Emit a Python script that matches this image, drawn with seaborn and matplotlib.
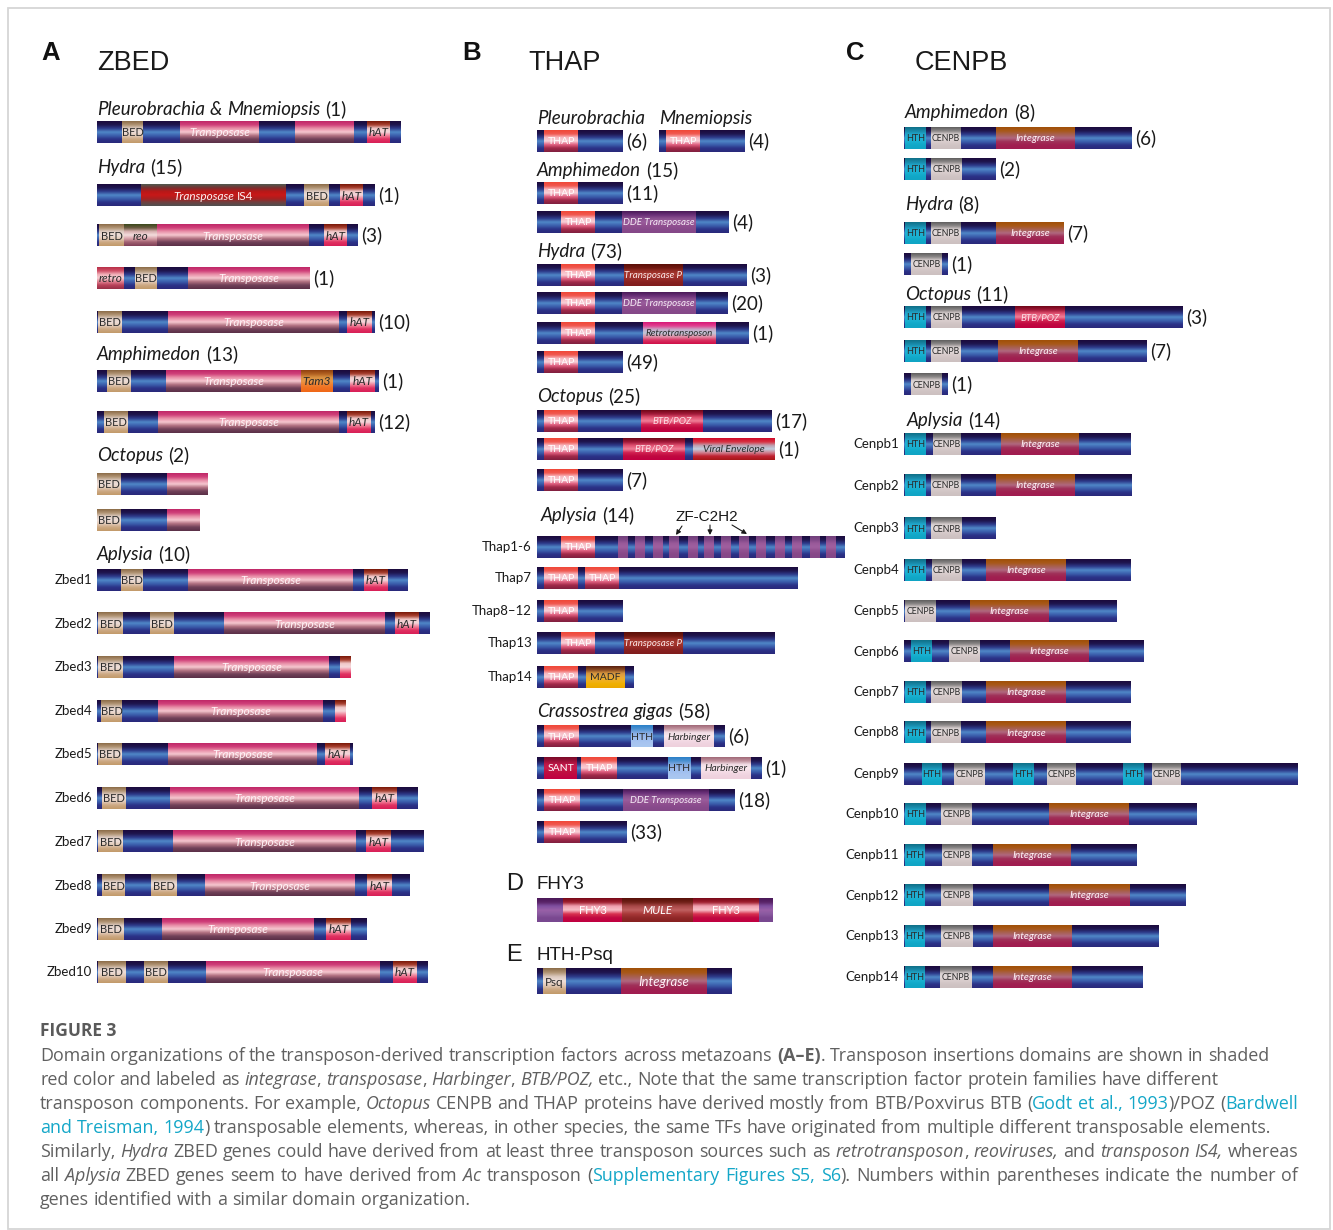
import matplotlib
matplotlib.use('Agg')
import matplotlib.pyplot as plt
from matplotlib.patches import Rectangle
import numpy as np
import seaborn as sns

sns.set_theme(style='white')
plt.rcParams['font.family'] = ['Lato', 'DejaVu Sans']

# ---------------- data ----------------
# rows: (row label, protein length, [(start, end, domain kind, text)], gene count)

zbed_heads = [('Pleurobrachia & Mnemiopsis', 1), ('Hydra', 15), ('Amphimedon', 13),
              ('Octopus', 2), ('Aplysia', 10)]
zbed_rows = [
    ('', 304, [(25, 46, 'bed', 'BED'), (83, 162, 'tp', 'Transposase'), (198, 257, 'tp', ''), (270, 293, 'hat', 'hAT')], None),
    ('', 278, [(44, 189, 'is4', 'Transposase IS4'), (207, 232, 'bed', 'BED'), (243, 266, 'hat', 'hAT')], 1),
    ('', 261, [(2, 27, 'bed', 'BED'), (27, 60, 'reo', 'reo'), (60, 212, 'tp', 'Transposase'), (227, 250, 'hat', 'hAT')], 3),
    ('', 213, [(0, 27, 'retro', 'retro'), (38, 60, 'bed', 'BED'), (91, 213, 'tp', 'Transposase')], 1),
    ('', 278, [(1, 25, 'bed', 'BED'), (71, 242, 'tp', 'Transposase'), (250, 275, 'hat', 'hAT')], 10),
    ('', 282, [(10, 34, 'bed', 'BED'), (69, 204, 'tp', 'Transposase'), (204, 236, 'tam3', 'Tam3'), (253, 278, 'hat', 'hAT')], 1),
    ('', 278, [(7, 31, 'bed', 'BED'), (61, 242, 'tp', 'Transposase'), (250, 274, 'hat', 'hAT')], 12),
    ('', 111, [(0, 24, 'bed', 'BED'), (70, 111, 'tp', '')], None),
    ('', 103, [(0, 24, 'bed', 'BED'), (70, 103, 'tp', '')], None),
    ('Zbed1', 311, [(24, 46, 'bed', 'BED'), (91, 256, 'tp', 'Transposase'), (267, 291, 'hat', 'hAT')], None),
    ('Zbed2', 333, [(1, 26, 'bed', 'BED'), (53, 77, 'bed', 'BED'), (127, 288, 'tp', 'Transposase'), (298, 322, 'hat', 'hAT')], None),
    ('Zbed3', 254, [(1, 26, 'bed', 'BED'), (77, 232, 'tp', 'Transposase'), (243, 254, 'hat', '')], None),
    ('Zbed4', 249, [(4, 25, 'bed', 'BED'), (61, 226, 'tp', 'Transposase'), (238, 249, 'hat', '')], None),
    ('Zbed5', 256, [(1, 25, 'bed', 'BED'), (71, 220, 'tp', 'Transposase'), (228, 253, 'hat', 'hAT')], None),
    ('Zbed6', 321, [(5, 29, 'bed', 'BED'), (73, 262, 'tp', 'Transposase'), (275, 300, 'hat', 'hAT')], None),
    ('Zbed7', 327, [(1, 26, 'bed', 'BED'), (76, 259, 'tp', 'Transposase'), (269, 294, 'hat', 'hAT')], None),
    ('Zbed8', 313, [(5, 28, 'bed', 'BED'), (54, 80, 'bed', 'BED'), (108, 258, 'tp', 'Transposase'), (270, 295, 'hat', 'hAT')], None),
    ('Zbed9', 270, [(1, 27, 'bed', 'BED'), (65, 217, 'tp', 'Transposase'), (229, 254, 'hat', 'hAT')], None),
    ('Zbed10', 331, [(1, 29, 'bed', 'BED'), (47, 71, 'bed', 'BED'), (109, 283, 'tp', 'Transposase'), (296, 320, 'hat', 'hAT')], None),
]

thap16_zf = [81, 98, 116, 132, 151, 167, 184, 202, 219, 238, 255, 273, 289]
thap_heads = [('Pleurobrachia', None), ('Mnemiopsis', None), ('Amphimedon', 15), ('Hydra', 73),
              ('Octopus', 25), ('Aplysia', 14), ('Crassostrea gigas', 58)]
thap_rows = [
    ('', 86, [(7, 41, 'thap', 'THAP')], 6),
    ('', 86, [(7, 41, 'thap', 'THAP')], 4),
    ('', 86, [(7, 41, 'thap', 'THAP')], 11),
    ('', 192, [(24, 58, 'thap', 'THAP'), (85, 159, 'dde', 'DDE Transposase')], 4),
    ('', 210, [(24, 58, 'thap', 'THAP'), (87, 146, 'tpp', 'Transposase P')], 3),
    ('', 191, [(24, 58, 'thap', 'THAP'), (85, 159, 'dde', 'DDE Transposase')], 20),
    ('', 212, [(24, 58, 'thap', 'THAP'), (106, 179, 'retrotp', 'Retrotransposon')], 1),
    ('', 86, [(7, 41, 'thap', 'THAP')], 49),
    ('', 235, [(7, 41, 'thap', 'THAP'), (104, 166, 'btb', 'BTB/POZ')], 17),
    ('', 238, [(7, 41, 'thap', 'THAP'), (86, 148, 'btb', 'BTB/POZ'), (156, 238, 'viral', 'Viral Envelope')], 1),
    ('', 86, [(7, 41, 'thap', 'THAP')], 7),
    ('Thap1-6', 308, [(24, 58, 'thap', 'THAP')] + [(s, s + 10, 'zf', '') for s in thap16_zf], None),
    ('Thap7', 261, [(7, 41, 'thap', 'THAP'), (48, 82, 'thap', 'THAP')], None),
    ('Thap8–12', 86, [(7, 41, 'thap', 'THAP')], None),
    ('Thap13', 238, [(24, 58, 'thap', 'THAP'), (87, 146, 'tpp', 'Transposase P')], None),
    ('Thap14', 97, [(7, 41, 'thap', 'THAP'), (49, 88, 'madf', 'MADF')], None),
    ('', 188, [(7, 42, 'thap', 'THAP'), (94, 116, 'hthb', 'HTH'), (127, 177, 'harb', 'Harbinger')], 6),
    ('', 225, [(7, 40, 'sant', 'SANT'), (44, 80, 'thap', 'THAP'), (131, 154, 'hthb', 'HTH'), (164, 214, 'harb', 'Harbinger')], 1),
    ('', 198, [(7, 43, 'thap', 'THAP'), (86, 172, 'dde', 'DDE Transposase')], 18),
    ('', 90, [(7, 43, 'thap', 'THAP')], 33),
]

fhy3_row = ('', 236, [(0, 236, 'fbb', ''), (26, 85, 'fhy3', 'FHY3'), (85, 156, 'mule', 'MULE'), (156, 222, 'fhy3', 'FHY3')], None)
psq_row = ('', 195, [(6, 29, 'psq', 'Psq'), (84, 170, 'int2', 'Integrase')], None)

cenpb_heads = [('Amphimedon', 8), ('Hydra', 8), ('Octopus', 11), ('Aplysia', 14)]
cenpb_rows = [
    ('', 228, [(1, 22, 'hthc', 'HTH'), (27, 57, 'cenpb', 'CENPB'), (92, 171, 'int', 'Integrase')], 6),
    ('', 92, [(1, 22, 'hthc', 'HTH'), (27, 58, 'cenpb', 'CENPB')], 2),
    ('', 160, [(1, 22, 'hthc', 'HTH'), (27, 57, 'cenpb', 'CENPB'), (92, 160, 'int', 'Integrase')], 7),
    ('', 44, [(7, 38, 'cenpb', 'CENPB')], 1),
    ('', 279, [(1, 22, 'hthc', 'HTH'), (27, 58, 'cenpb', 'CENPB'), (111, 161, 'btb', 'BTB/POZ')], 3),
    ('', 243, [(1, 22, 'hthc', 'HTH'), (27, 57, 'cenpb', 'CENPB'), (94, 174, 'int', 'Integrase')], 7),
    ('', 44, [(7, 38, 'cenpb', 'CENPB')], 1),
    ('Cenpb1', 227, [(1, 22, 'hthc', 'HTH'), (29, 57, 'cenpb', 'CENPB'), (97, 175, 'int', 'Integrase')], None),
    ('Cenpb2', 228, [(1, 22, 'hthc', 'HTH'), (27, 57, 'cenpb', 'CENPB'), (92, 171, 'int', 'Integrase')], None),
    ('Cenpb3', 92, [(1, 22, 'hthc', 'HTH'), (27, 58, 'cenpb', 'CENPB')], None),
    ('Cenpb4', 227, [(1, 22, 'hthc', 'HTH'), (28, 58, 'cenpb', 'CENPB'), (82, 162, 'int', 'Integrase')], None),
    ('Cenpb5', 213, [(1, 32, 'cenpb', 'CENPB'), (66, 145, 'int', 'Integrase')], None),
    ('Cenpb6', 240, [(7, 28, 'hthc', 'HTH'), (45, 76, 'cenpb', 'CENPB'), (106, 185, 'int', 'Integrase')], None),
    ('Cenpb7', 227, [(1, 22, 'hthc', 'HTH'), (27, 58, 'cenpb', 'CENPB'), (82, 162, 'int', 'Integrase')], None),
    ('Cenpb8', 227, [(1, 22, 'hthc', 'HTH'), (27, 57, 'cenpb', 'CENPB'), (82, 162, 'int', 'Integrase')], None),
    ('Cenpb9', 394, [(18, 38, 'hthc', 'HTH'), (50, 81, 'cenpb', 'CENPB'), (109, 130, 'hthc', 'HTH'),
                     (143, 172, 'cenpb', 'CENPB'), (219, 240, 'hthc', 'HTH'), (248, 277, 'cenpb', 'CENPB')], None),
    ('Cenpb10', 293, [(1, 22, 'hthc', 'HTH'), (37, 68, 'cenpb', 'CENPB'), (145, 225, 'int', 'Integrase')], None),
    ('Cenpb11', 233, [(1, 21, 'hthc', 'HTH'), (38, 68, 'cenpb', 'CENPB'), (89, 167, 'int', 'Integrase')], None),
    ('Cenpb12', 282, [(1, 21, 'hthc', 'HTH'), (37, 69, 'cenpb', 'CENPB'), (145, 226, 'int', 'Integrase')], None),
    ('Cenpb13', 255, [(1, 21, 'hthc', 'HTH'), (37, 69, 'cenpb', 'CENPB'), (89, 168, 'int', 'Integrase')], None),
    ('Cenpb14', 239, [(1, 21, 'hthc', 'HTH'), (36, 68, 'cenpb', 'CENPB'), (89, 168, 'int', 'Integrase')], None),
]

caption_title = 'FIGURE 3'
caption_lines = [
    [('Domain organizations of the transposon-derived transcription factors across metazoans ', 'n'), ('(A–E)', 'b'),
     ('. Transposon insertions domains are shown in shaded', 'n')],
    [('red color and labeled as ', 'n'), ('integrase', 'i'), (', ', 'n'), ('transposase', 'i'), (', ', 'n'),
     ('Harbinger', 'i'), (', ', 'n'), ('BTB/POZ,', 'i'),
     (' etc., Note that the same transcription factor protein families have different', 'n')],
    [('transposon components. For example, ', 'n'), ('Octopus', 'i'),
     (' CENPB and THAP proteins have derived mostly from BTB/Poxvirus BTB (', 'n'), ('Godt et al., 1993', 'l'),
     (')/POZ (', 'n'), ('Bardwell', 'l')],
    [('and Treisman, 1994', 'l'),
     (') transposable elements, whereas, in other species, the same TFs have originated from multiple different transposable elements.', 'n')],
    [('Similarly, ', 'n'), ('Hydra', 'i'), (' ZBED genes could have derived from at least three transposon sources such as ', 'n'),
     ('retrotransposon', 'i'), (', ', 'n'), ('reoviruses,', 'i'), (' and ', 'n'), ('transposon IS4,', 'i'), (' whereas', 'n')],
    [('all ', 'n'), ('Aplysia', 'i'), (' ZBED genes seem to have derived from ', 'n'), ('Ac', 'i'), (' transposon (', 'n'),
     ('Supplementary Figures S5, S6', 'l'), ('). Numbers within parentheses indicate the number of', 'n')],
    [('genes identified with a similar domain organization.', 'n')],
]

# ---------------- layout ----------------
zbed_head_pos = [(97, 115), (97, 173), (97, 360), (97, 461), (97, 560)]
zbed_row_pos = [(97, y) for y in [132, 195.5, 235.5, 278, 322, 381, 422.5, 484, 520.5, 580, 623.5,
                                  667, 711, 754.5, 798, 841.5, 885.5, 929, 972.5]]
thap_head_pos = [(537, 124), (659, 124), (537, 176), (537, 257), (537, 402), (541, 521), (537, 717)]
thap_row_pos = [(537, 141), (659, 141)] + [(537, y) for y in [193, 222, 275, 303, 333.5, 362, 421, 449, 480,
                                                             547, 578, 611, 643, 677, 736.5, 768, 800, 832]]
cenpb_head_pos = [(905, 118), (905, 210), (905, 300), (907, 426)]
cenpb_row_pos = [(904, y) for y in [138, 169, 233, 264, 317.5, 351.5, 384.5, 444, 485.5, 528.5, 570, 611,
                                    651.5, 692, 732.5, 774, 814, 855, 895.5, 936, 977]]

# gradient colours, top -> bottom
grad_cols = {
    'bb': ['#1b0a3c', '#1f1650', '#2e3c8c', '#5088c8', '#3b5eac', '#2b3288', '#29297a'],
    'bed': ['#8c6c48', '#b09474', '#dccac0', '#eedfda', '#e2cab8', '#cca882', '#c29a6a'],
    'psq': ['#8c6c48', '#b09474', '#dccac0', '#eedfda', '#e2cab8', '#cca882', '#c29a6a'],
    'tp': ['#c02868', '#d0407a', '#e890a8', '#f6c8d0', '#b07080', '#704058', '#5a3048'],
    'hat': ['#7a1808', '#a84030', '#f0c8c8', '#f4d8dc', '#f08098', '#e03060', '#d82058'],
    'is4': ['#505a50', '#7a3030', '#b81818', '#c81818', '#a82020', '#704040', '#505050'],
    'reo': ['#3c4a1c', '#6a5a40', '#d8b0b0', '#f4dede', '#d8a0a8', '#a06070', '#804058'],
    'retro': ['#b83048', '#d05068', '#f0b0b8', '#f8d0d4', '#e08090', '#b84058', '#983048'],
    'tam3': ['#904010', '#b06020', '#d89040', '#e89848', '#f08030', '#f07020', '#f06818'],
    'thap': ['#f04838', '#f05850', '#f8b8c0', '#f8d0d8', '#e06080', '#a02848', '#802040'],
    'dde': ['#4a1a58', '#6a3078', '#8a5090', '#9a5c9c', '#905090', '#884a8c', '#844888'],
    'tpp': ['#5a1008', '#701810', '#9a3028', '#a83830', '#982c28', '#882020', '#801c1c'],
    'retrotp': ['#d81878', '#e04090', '#c8a8c8', '#c0c8d8', '#e090a8', '#d83060', '#d01048'],
    'btb': ['#700818', '#a01838', '#e05070', '#f08098', '#d02050', '#c00840', '#c00040'],
    'viral': ['#d00828', '#d83040', '#c0a0b0', '#c0d0e0', '#d08090', '#c02030', '#a81818'],
    'zf': ['#70407a', '#804888', '#9a5a9a', '#a060a0', '#905090', '#884888', '#844888'],
    'madf': ['#5a2010', '#8a4a20', '#d89840', '#e8a838', '#f0b020', '#f0b000', '#eca800'],
    'hthb': ['#2a80c8', '#4a90d0', '#80a8e0', '#98b8ec', '#a0c0f0', '#a8c4f0', '#a8c8f0'],
    'harb': ['#a06a78', '#c0909c', '#f0dce4', '#fae8ee', '#f4dce6', '#f0d4e0', '#eed0dc'],
    'sant': ['#7a0a28', '#9a1038', '#c01848', '#c81c4c', '#c01040', '#c00840', '#c00040'],
    'fhy3': ['#780818', '#a02030', '#f0a0b0', '#f8c0c8', '#d83050', '#c00840', '#c00040'],
    'mule': ['#581008', '#702018', '#a84848', '#c06060', '#a83838', '#902828', '#882020'],
    'fbb': ['#4a1858', '#5a2468', '#8050a0', '#9a60a8', '#8a5aa0', '#7a4890', '#784890'],
    'int': ['#a05008', '#a85818', '#a86050', '#b06880', '#a03058', '#a02050', '#a01c50'],
    'int2': ['#a05008', '#a85818', '#a86050', '#b06880', '#a03058', '#a02050', '#a01c50'],
    'hthc': ['#107088', '#1888a8', '#20a8cc', '#20b0d4', '#18b0d0', '#10a8c8', '#10a4c4'],
    'cenpb': ['#606060', '#8a8686', '#d8d0d0', '#e4dcdc', '#d8cccc', '#d0c4c4', '#ccc0c0'],
}
cmaps = {k: sns.blend_palette(v, n_colors=64, as_cmap=True) for k, v in grad_cols.items()}

# label colour, font style, size
lab_style = {
    'bed': ('#2a2a2a', 'normal', 8), 'psq': ('#2a2a2a', 'normal', 8.5),
    'tp': ('#fff2f6', 'italic', 8.5), 'hat': ('#2a2a2a', 'italic', 8.5),
    'is4': ('#fff2f2', 'italic', 8.5), 'reo': ('#2a2a2a', 'italic', 8.5),
    'retro': ('#2a2a2a', 'italic', 8.5), 'tam3': ('#2a2a2a', 'italic', 8.5),
    'thap': ('#ffffff', 'normal', 7.5), 'dde': ('#f6ecf6', 'italic', 7),
    'tpp': ('#fbeaea', 'italic', 7), 'retrotp': ('#2a2a2a', 'italic', 7),
    'btb': ('#fde0e6', 'italic', 7), 'viral': ('#2a2a2a', 'italic', 7.5),
    'madf': ('#2a2a2a', 'normal', 7.5), 'hthb': ('#2a2a2a', 'normal', 7.5),
    'harb': ('#2a2a2a', 'italic', 7.5), 'sant': ('#ffffff', 'normal', 7.5),
    'fhy3': ('#ffffff', 'normal', 8), 'mule': ('#ffffff', 'italic', 8.5),
    'int': ('#fff0f6', 'italic', 7.5), 'int2': ('#fff0f6', 'italic', 9.5),
    'hthc': ('#2a2a2a', 'normal', 6.5), 'cenpb': ('#2a2a2a', 'normal', 6.3),
    'zf': ('#2a2a2a', 'normal', 6), 'fbb': ('#2a2a2a', 'normal', 6),
}

HEAD_SIZE = 13.5
COUNT_SIZE = 13.5
ROWLAB_SIZE = 9.5
INK = '#1a1a1a'
CAP_INK = '#606060'
LINK = '#14a7c8'
CAP_FONT = ['Open Sans', 'DejaVu Sans']

fig = plt.figure(figsize=(13.33, 12.30), dpi=100)
ax = fig.add_axes([0, 0, 1, 1])
ax.set_xlim(0, 1333)
ax.set_ylim(1230, 0)
ax.axis('off')
R = fig.canvas.get_renderer()

col = np.linspace(0, 1, 64).reshape(-1, 1)


def seg(x0, x1, yc, h, kind):
    ax.imshow(col, cmap=cmaps[kind], extent=[x0, x1, yc + h / 2, yc - h / 2],
              aspect='auto', interpolation='bilinear', zorder=2)


def style_kw(st, color):
    kw = dict(color=color)
    if st == 'i':
        kw['style'] = 'italic'
    elif st == 'b':
        kw['weight'] = 'bold'
    elif st == 'l':
        kw['color'] = LINK
    return kw


def runs_text(x, y, runs, size, color=INK, ha='left', va='baseline', target=None, family=None, zorder=5):
    fam = {} if family is None else {'family': family}
    words = [[]]
    for txt, st in runs:
        parts = txt.split(' ')
        for k, p in enumerate(parts):
            if k > 0:
                words.append([])
            if p:
                words[-1].append((p, st))
    words = [w for w in words if w]
    items = []
    total = 0
    for w in words:
        pcs = []
        for p, st in w:
            t = ax.text(0, y, p, fontsize=size, ha='left', va=va, zorder=zorder, **fam, **style_kw(st, color))
            wd = t.get_window_extent(R).width
            pcs.append((t, wd))
            total += wd
        items.append(pcs)
    tmp = ax.text(0, 0, 'x x', fontsize=size, **fam)
    tmp2 = ax.text(0, 0, 'xx', fontsize=size, **fam)
    sp = tmp.get_window_extent(R).width - tmp2.get_window_extent(R).width
    tmp.remove()
    tmp2.remove()
    if target is not None and len(items) > 1:
        sp = max((target - x - total) / (len(items) - 1), sp * 0.5)
    full = total + sp * (len(items) - 1)
    cx = x - full / 2 if ha == 'center' else x
    for pcs in items:
        for t, wd in pcs:
            t.set_x(cx)
            cx += wd
        cx += sp
    return cx - sp


def draw_row(row, pos, h=22):
    lab, length, doms, n = row
    x0, yc = pos
    seg(x0, x0 + length, yc, h, 'bb')
    for s, e, kind, txt in doms:
        seg(x0 + s, x0 + e, yc, h, kind)
        if txt:
            c, st, sz = lab_style[kind]
            if kind == 'is4':
                w = txt.split(' ')
                runs_text(x0 + (s + e) / 2, yc + 0.5, [(w[0] + ' ', 'i'), (w[1], 'n')], sz, color=c,
                          ha='center', va='center')
            else:
                ax.text(x0 + (s + e) / 2, yc + 0.5, txt, fontsize=sz, color=c, style=st,
                        ha='center', va='center', zorder=5)
    if lab:
        ax.text(x0 - 5, yc, lab, fontsize=ROWLAB_SIZE, color=INK, ha='right', va='center')
    if n is not None:
        ax.text(x0 + length + 3, yc, f'({n})', fontsize=COUNT_SIZE, color=INK, ha='left', va='center')


def draw_head(head, pos):
    name, n = head
    runs = [(name, 'i')]
    if n is not None:
        runs.append((f' ({n})', 'n'))
    runs_text(pos[0], pos[1], runs, HEAD_SIZE)


# frame
ax.add_patch(Rectangle((7.5, 7.5), 1322, 1221, fill=False, ec='#d6d6d6', lw=1.3, zorder=1))

# panel titles
tfont = ['Liberation Sans', 'DejaVu Sans']
for letter, lx, title, tx in [('A', 41, 'ZBED', 97), ('B', 462, 'THAP', 528), ('C', 846, 'CENPB', 915)]:
    ax.text(lx, 60, letter, fontsize=18.5, weight='bold', family=tfont, color='#111111')
    ax.text(tx, 70, title, fontsize=19.5, family=tfont, color='#1a1a1a')
ax.text(506, 890, 'D', fontsize=17, family=tfont, color='#1a1a1a')
ax.text(537, 889, 'FHY3', fontsize=13.5, family=tfont, color='#1a1a1a')
ax.text(506, 961, 'E', fontsize=17, family=tfont, color='#1a1a1a')
ax.text(537, 960, 'HTH-Psq', fontsize=13.5, family=tfont, color='#1a1a1a')

for hd, p in zip(zbed_heads, zbed_head_pos):
    draw_head(hd, p)
for hd, p in zip(thap_heads, thap_head_pos):
    draw_head(hd, p)
for hd, p in zip(cenpb_heads, cenpb_head_pos):
    draw_head(hd, p)

for rw, p in zip(zbed_rows, zbed_row_pos):
    draw_row(rw, p)
for rw, p in zip(thap_rows, thap_row_pos):
    draw_row(rw, p)
for rw, p in zip(cenpb_rows, cenpb_row_pos):
    draw_row(rw, p)
draw_row(fhy3_row, (537, 910), h=24)
draw_row(psq_row, (537, 981.5), h=26)

# ZF-C2H2 annotation on Thap1-6
ax.text(675, 521, 'ZF-C2H2', fontsize=11, family=tfont, color='#1a1a1a')
for (ax0, ay0), (ax1, ay1) in [((682, 526), (676, 535)), ((710, 525), (710, 535)), ((732, 525), (747, 534))]:
    ax.annotate('', xy=(ax1, ay1), xytext=(ax0, ay0),
                arrowprops=dict(arrowstyle='-|>', lw=0.8, color='#1a1a1a', mutation_scale=7,
                                shrinkA=0, shrinkB=0))

# caption
ax.text(40, 1036, caption_title, fontsize=12.5, weight='bold', color='#5a5a5a', family=CAP_FONT)
cap_base = [1061, 1085, 1109, 1133, 1157, 1181, 1205]
cap_right = [None, None, 1298, None, 1298, 1298, None]
for runs, yb, xr in zip(caption_lines, cap_base, cap_right):
    runs_text(40, yb, runs, 12.9, color=CAP_INK, target=xr, family=CAP_FONT)

fig.savefig('out.png', dpi=100)
